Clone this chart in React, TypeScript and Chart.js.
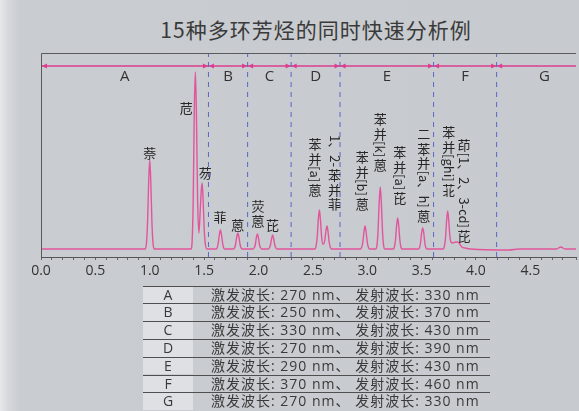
import React, { useEffect, useRef } from "react";
import { Chart, registerables } from "chart.js";

Chart.register(...registerables);

const TITLE = "15种多环芳烃的同时快速分析例";

const X_TICK_LABELS = ["0.0", "0.5", "1.0", "1.5", "2.0", "2.5", "3.0", "3.5", "4.0", "4.5"];

// retention time (min) of each trace point
const TRACE_TIMES = [
  0.0, 0.5,
  0.96, 0.97, 0.98, 0.99, 1.0, 1.01, 1.02, 1.03, 1.04,
  1.38, 1.39, 1.4, 1.41, 1.42, 1.43, 1.44, 1.452, 1.465, 1.475, 1.482, 1.49, 1.5, 1.51, 1.525,
  1.61, 1.62, 1.63, 1.64, 1.65, 1.66, 1.67, 1.68, 1.69,
  1.77, 1.78, 1.79, 1.8, 1.81, 1.82, 1.83, 1.84, 1.85,
  1.95, 1.96, 1.97, 1.98, 1.99, 2.0, 2.01, 2.02, 2.03,
  2.09, 2.1, 2.11, 2.12, 2.13, 2.14, 2.15, 2.16, 2.17,
  2.52, 2.53, 2.54, 2.55, 2.56, 2.57, 2.58, 2.59, 2.6, 2.61, 2.62, 2.63, 2.64, 2.65, 2.66, 2.67,
  2.94, 2.95, 2.96, 2.97, 2.98, 2.99, 3.0, 3.01, 3.02,
  3.08, 3.09, 3.1, 3.11, 3.12, 3.13, 3.14, 3.15, 3.16,
  3.24, 3.25, 3.26, 3.27, 3.28, 3.29, 3.3, 3.31, 3.32,
  3.47, 3.48, 3.49, 3.5, 3.51, 3.52, 3.53, 3.54, 3.55,
  3.7, 3.71, 3.72, 3.73, 3.74, 3.75, 3.76, 3.77, 3.79, 3.81, 3.83, 3.85, 3.87, 3.9, 3.95,
  4.3, 4.4, 4.74, 4.78, 4.82, 4.95,
];

// fluorescence signal of each trace point
const TRACE_SIGNAL = [
  0, 0,
  0, 6, 27, 66, 89, 66, 27, 6, 0,
  0, 8, 50, 140, 177, 130, 50, 16, 40, 60, 66, 52, 22, 6, 0,
  0, 1, 6, 14, 19, 14, 6, 1, 0,
  0, 1, 5, 12, 16, 12, 5, 1, 0,
  0, 1, 4, 11, 15, 11, 4, 1, 0,
  0, 1, 4, 10, 14, 10, 4, 1, 0,
  0, 3, 12, 29, 39, 29, 13, 5, 5, 9, 18, 23, 17, 7, 2, 0,
  0, 2, 7, 17, 23, 17, 7, 2, 0,
  0, 4, 19, 46, 62, 46, 19, 4, 0,
  0, 2, 9, 23, 31, 23, 9, 2, 0,
  0, 1, 6, 16, 21, 16, 6, 1, 0,
  0, 3, 11, 28, 38, 28, 13, 7, 6, 7, 7, 5, 2, 1, 0,
  -1, 0, 0, 2, 0, 0,
];

const SECTION_NAMES = ["A", "B", "C", "D", "E", "F", "G"];
const SECTION_BOUNDS = [0, 1.54, 1.9, 2.3, 2.75, 3.61, 4.19, 5.07];
const SECTION_LINE_LEVEL = 183;

const PEAK_NAMES = [
  "萘", "苊", "芴", "菲", "蒽", "荧蒽", "芘",
  "苯并[a]蒽", "1、2-苯并菲", "苯并[b]蒽", "苯并[k]蒽", "苯并[a]芘",
  "二苯并[a、h]蒽", "苯并[ghi]苝", "茚[1、2、3-cd]芘",
];

// label anchor: [x in minutes, top in signal units]
const LABEL_ANCHORS = [
  [1.0, 103], [1.336, 148], [1.51, 83], [1.647, 39], [1.81, 31], [1.995, 50], [2.13, 31],
  [2.52, 112], [2.7, 114], [2.955, 99], [3.12, 137], [3.3, 104],
  [3.52, 122], [3.75, 124], [3.89, 111],
];

const TABLE_SECTIONS = ["A", "B", "C", "D", "E", "F", "G"];
const EXCITATION_NM = [270, 250, 330, 270, 290, 370, 270];
const EMISSION_NM = [330, 370, 430, 390, 430, 460, 330];

const X_MIN = 0;
const X_MAX = 4.92;
const Y_MIN = -8;
const Y_MAX = 196;

function drawVertical(ctx: CanvasRenderingContext2D, text: string, cx: number, top: number, size: number) {
  let y = top;
  let buf = "";
  const flush = () => {
    if (!buf) return;
    ctx.save();
    ctx.translate(cx, y);
    ctx.rotate(Math.PI / 2);
    ctx.textAlign = "left";
    ctx.textBaseline = "middle";
    ctx.fillText(buf, 0, 0);
    const w = ctx.measureText(buf).width;
    ctx.restore();
    y += w + 1;
    buf = "";
  };
  for (const ch of Array.from(text)) {
    if (/[\u4e00-\u9fff]/.test(ch)) {
      flush();
      ctx.textAlign = "center";
      ctx.textBaseline = "middle";
      ctx.fillText(ch, cx, y + size * 0.55);
      y += size * 1.12;
    } else {
      buf += ch;
    }
  }
  flush();
}

const decorPlugin = {
  id: "decor",
  afterDatasetsDraw(chart: any) {
    const ctx: CanvasRenderingContext2D = chart.ctx;
    const xs = chart.scales.x;
    const ys = chart.scales.y;
    const area = chart.chartArea;
    ctx.save();
    // box top and left
    ctx.strokeStyle = "#5a5a5a";
    ctx.lineWidth = 1;
    ctx.beginPath();
    ctx.moveTo(area.left + 0.5, area.bottom);
    ctx.lineTo(area.left + 0.5, area.top + 0.5);
    ctx.lineTo(area.right, area.top + 0.5);
    ctx.stroke();

    // arrowheads on the section line
    const ly = ys.getPixelForValue(SECTION_LINE_LEVEL);
    ctx.fillStyle = "#dd3d8e";
    const tri = (tip: number, dir: number) => {
      ctx.beginPath();
      ctx.moveTo(tip, ly);
      ctx.lineTo(tip - dir * 5, ly - 2.5);
      ctx.lineTo(tip - dir * 5, ly + 2.5);
      ctx.closePath();
      ctx.fill();
    };
    tri(xs.getPixelForValue(SECTION_BOUNDS[0]) + 1, -1);
    for (let i = 1; i < SECTION_BOUNDS.length - 1; i++) {
      const px = xs.getPixelForValue(SECTION_BOUNDS[i]);
      tri(px - 0.5, 1);
      tri(px + 0.5, -1);
    }

    // section names
    ctx.fillStyle = "#333";
    ctx.font = "15px 'Open Sans', 'Noto Sans', sans-serif";
    ctx.textAlign = "center";
    ctx.textBaseline = "middle";
    SECTION_NAMES.forEach((n, i) => {
      const mid = (SECTION_BOUNDS[i] + SECTION_BOUNDS[i + 1]) / 2;
      ctx.fillText(n, xs.getPixelForValue(mid), ys.getPixelForValue(172));
    });

    // peak names
    ctx.fillStyle = "#262626";
    const size = 13;
    ctx.font = `${size}px 'Noto Sans CJK SC', 'Noto Sans', sans-serif`;
    PEAK_NAMES.forEach((name, i) => {
      const [t, top] = LABEL_ANCHORS[i];
      drawVertical(ctx, name, xs.getPixelForValue(t), ys.getPixelForValue(top), size);
    });
    ctx.restore();
  },
};

export default function App() {
  const ref = useRef<HTMLCanvasElement | null>(null);

  useEffect(() => {
    if (!ref.current) return;
    const trace = TRACE_TIMES.map((t, i) => ({ x: t, y: TRACE_SIGNAL[i] }));
    const bounds = SECTION_BOUNDS.slice(1, -1).map((b) => ({
      data: [
        { x: b, y: Y_MIN },
        { x: b, y: Y_MAX },
      ],
      borderColor: "#5b66c9",
      borderWidth: 1,
      borderDash: [5, 5],
      pointRadius: 0,
      fill: false,
    }));
    const chart = new Chart(ref.current, {
      type: "line",
      data: {
        datasets: [
          ...bounds,
          {
            data: [
              { x: X_MIN, y: SECTION_LINE_LEVEL },
              { x: X_MAX, y: SECTION_LINE_LEVEL },
            ],
            borderColor: "#dd3d8e",
            borderWidth: 1.3,
            pointRadius: 0,
            fill: false,
          },
          {
            data: trace,
            borderColor: "#e2559c",
            borderWidth: 1.4,
            pointRadius: 0,
            cubicInterpolationMode: "monotone",
            fill: false,
          },
        ] as any,
      },
      options: {
        animation: false,
        responsive: false,
        maintainAspectRatio: false,
        layout: { padding: { left: 41, top: 53, right: 0, bottom: 13 } },
        plugins: { legend: { display: false }, tooltip: { enabled: false }, title: { display: false } },
        scales: {
          x: {
            type: "linear",
            min: X_MIN,
            max: X_MAX,
            afterFit: (s: any) => {
              s.height = 30;
            },
            ticks: {
              stepSize: 0.1,
              autoSkip: false,
              maxRotation: 0,
              padding: 3,
              color: "#333",
              font: { family: "'Open Sans', 'Noto Sans', sans-serif", size: 14 },
              callback: (v: any) => {
                const lbl = Number(v).toFixed(1);
                return X_TICK_LABELS.includes(lbl) && Math.abs(Number(v) - Number(lbl)) < 1e-6 ? lbl : "";
              },
            },
            grid: { drawOnChartArea: false, drawTicks: true, tickLength: 3, color: "#666" },
            border: { display: true, color: "#555", width: 1 },
          },
          y: { display: false, min: Y_MIN, max: Y_MAX },
        },
      },
      plugins: [decorPlugin],
    } as any);
    return () => chart.destroy();
  }, []);

  return (
    <div
      style={{
        position: "fixed",
        left: 0,
        top: 0,
        width: 579,
        height: 411,
        overflow: "hidden",
        background: "linear-gradient(to right, #e6e8ea 0px, #d6d9dc 8px, #c9ccd0 20px, #c7cace 100%)",
        fontFamily: "'Noto Sans CJK SC', sans-serif",
      }}
    >
      <div
        style={{
          position: "absolute",
          left: 116,
          top: 16,
          width: 400,
          height: 27,
          lineHeight: "27px",
          textAlign: "center",
          fontSize: 21,
          letterSpacing: 1,
          color: "#3a3a3a",
          fontFamily: "'Noto Sans CJK SC', sans-serif",
        }}
      >
        {TITLE}
      </div>
      <canvas ref={ref} width={579} height={300} style={{ position: "absolute", left: 0, top: 0 }} />
      {TABLE_SECTIONS.map((s, i) => (
        <div
          key={s}
          style={{
            position: "absolute",
            left: 143,
            top: 285.5 + i * 17.8,
            width: 347,
            height: 17.8,
            borderTop: "1px solid #4f4f4f",
            boxSizing: "border-box",
            fontSize: 14,
            lineHeight: "16.8px",
            color: "#3a3a3a",
          }}
        >
          <div
            style={{
              position: "absolute",
              left: 0,
              top: 0,
              width: 50,
              height: "100%",
              background: "#dfe0e3",
              textAlign: "center",
              fontFamily: "'Open Sans', sans-serif",
            }}
          >
            {s}
          </div>
          <div
            style={{
              position: "absolute",
              left: 68,
              top: 0,
              whiteSpace: "nowrap",
              letterSpacing: 1,
              fontFamily: "'Open Sans', 'Noto Sans CJK SC', sans-serif",
            }}
          >
            {`激发波长: ${EXCITATION_NM[i]} nm、 发射波长: ${EMISSION_NM[i]} nm`}
          </div>
        </div>
      ))}
    </div>
  );
}
